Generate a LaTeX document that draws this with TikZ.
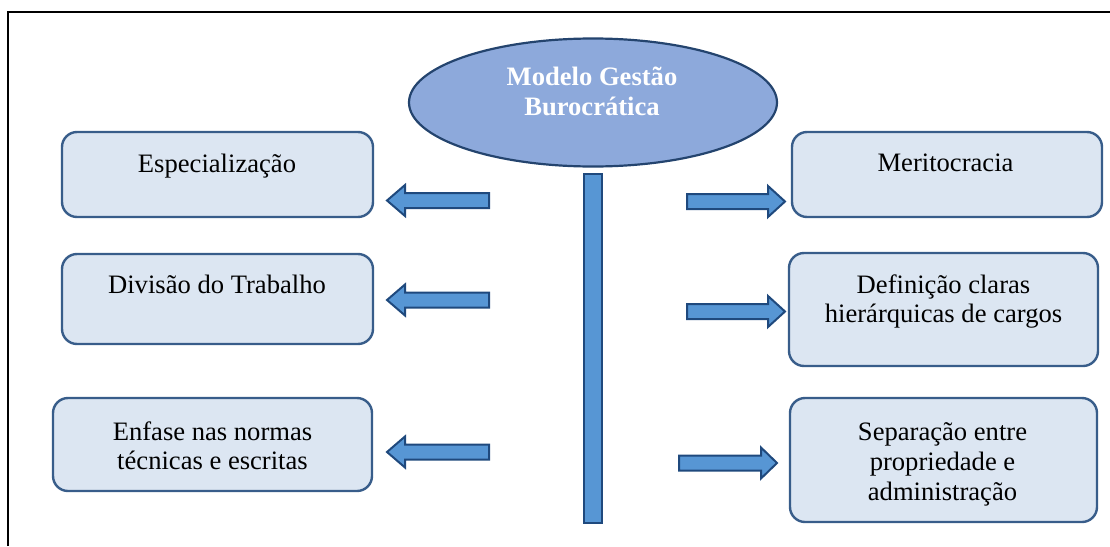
\documentclass[tikz,border=0pt]{standalone}
\usepackage{fontspec}
\setmainfont{Liberation Serif}
\usetikzlibrary{shapes.geometric}
\definecolor{boxfill}{HTML}{DCE6F2}
\definecolor{boxline}{HTML}{385D8A}
\definecolor{ellfill}{HTML}{8DA9DB}
\definecolor{ellline}{HTML}{24446E}
\definecolor{arrfill}{HTML}{5796D4}
\definecolor{arrline}{HTML}{1F497D}
\tikzset{
  box/.style={draw=boxline, fill=boxfill, line width=2.4pt, rounded corners=15pt, inner sep=0pt},
  txt/.style={anchor=base, inner sep=0pt, font=\fontsize{26.6}{30}\selectfont, text=black},
  ttl/.style={anchor=base, inner sep=0pt, font=\fontsize{26.6}{30}\selectfont\bfseries, text=white},
  blockarrow/.style={draw=arrline, fill=arrfill, line width=2pt, line join=miter},
  frameline/.style={draw=black, line width=1.6pt}
}
\begin{document}
\begin{tikzpicture}[x=1pt,y=-1pt]
\useasboundingbox (0,0) rectangle (1110,546);
% frame (partially visible)
\coordinate (ftl) at (8,12);
\coordinate (ftr) at (1110,12);
\coordinate (fbl) at (8,546);
\draw[frameline] (fbl) -- (ftl) -- (ftr);

% central ellipse
\node[ellipse, draw=ellline, fill=ellfill, line width=2.2pt, minimum width=368pt, minimum height=128pt, inner sep=0pt] (core) at (593,102.5) {};
\node[ttl] (core1) at (592,85) {Modelo Gestão};
\node[ttl] (core2) at (592,115) {Burocrática};

% vertical bar
\node[draw=arrline, fill=arrfill, line width=2pt, minimum width=18pt, minimum height=349pt, inner sep=0pt, anchor=north] (bar) at (593,173) {};

% left boxes
\node[box, minimum width=311pt, minimum height=85pt] (L1) at (217.5,174.5) {};
\node[txt] (L1t) at (217,172) {Especialização};
\node[box, minimum width=311pt, minimum height=90pt] (L2) at (217.5,299) {};
\node[txt] (L2t) at (217,293) {Divisão do Trabalho};
\node[box, minimum width=319pt, minimum height=93pt] (L3) at (212.5,444.5) {};
\node[txt] (L3a) at (212.5,440) {Enfase nas normas};
\node[txt] (L3b) at (212.5,469) {técnicas e escritas};

% right boxes
\node[box, minimum width=310pt, minimum height=85pt] (R1) at (947,174.5) {};
\node[txt] (R1t) at (945.5,171) {Meritocracia};
\node[box, minimum width=309pt, minimum height=113pt] (R2) at (943.5,309.5) {};
\node[txt] (R2a) at (943.5,293) {Definição claras};
\node[txt] (R2b) at (943.5,322) {hierárquicas de cargos};
\node[box, minimum width=307pt, minimum height=124pt] (R3) at (943.5,460) {};
\node[txt] (R3a) at (942.5,440) {Separação entre};
\node[txt] (R3b) at (942.5,470) {propriedade e};
\node[txt] (R3c) at (942.5,500) {administração};

% left block arrows (pointing left)
\foreach \y in {200.5,300,452}{
  \draw[blockarrow] (489,\y-7.5) -- (405,\y-7.5) -- (405,\y-15.5) -- (387,\y) -- (405,\y+15.5) -- (405,\y+7.5) -- (489,\y+7.5) -- cycle;
}
% right block arrows (pointing right)
\foreach \xa/\xb/\xc/\y in {687/768/785/201.5, 687/768/785/311.5, 679/761/777/463}{
  \draw[blockarrow] (\xa,\y-7.5) -- (\xb,\y-7.5) -- (\xb,\y-15.5) -- (\xc,\y) -- (\xb,\y+15.5) -- (\xb,\y+7.5) -- (\xa,\y+7.5) -- cycle;
}
\end{tikzpicture}
\end{document}
